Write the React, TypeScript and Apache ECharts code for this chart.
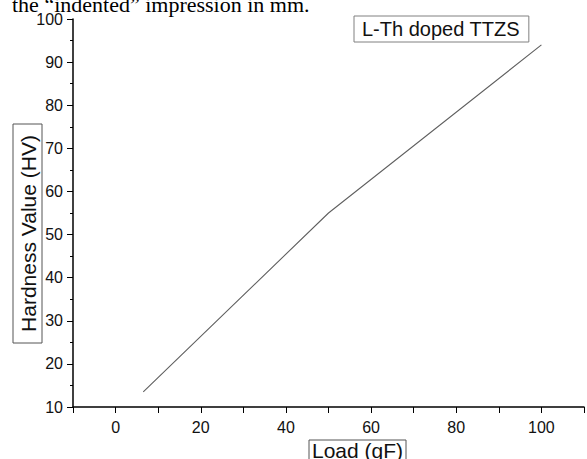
import React, { useEffect, useRef } from "react";
import * as echarts from "echarts";

const loads = [6.5, 50, 100];
const hardness = [13.5, 55, 94];
const seriesName = "L-Th doped TTZS";
const xTitle = "Load (gF)";
const yTitle = "Hardness Value (HV)";
const xLabelValues = [0, 20, 40, 60, 80, 100];
const topText = "the \u201Cindented\u201D impression in mm.";

export default function App() {
  const ref = useRef<HTMLDivElement>(null);
  useEffect(() => {
    if (!ref.current) return;
    const chart = echarts.init(ref.current, undefined, { renderer: "svg" });
    const font = '"Liberation Sans", Arial, sans-serif';
    chart.setOption({
      animation: false,
      backgroundColor: "#ffffff",
      grid: { left: 73, right: 1, top: 19, bottom: 52, containLabel: false },
      legend: {
        show: true,
        data: [{ name: seriesName, icon: "none" }],
        left: 354,
        top: 16,
        itemWidth: 0,
        itemHeight: 0,
        itemGap: 0,
        padding: [3, 9, 3, 3],
        borderColor: "#808080",
        borderWidth: 1,
        textStyle: { fontFamily: font, fontSize: 20, color: "#111" },
      },
      xAxis: {
        type: "value",
        min: -10,
        max: 110,
        interval: 10,
        splitLine: { show: false },
        axisLine: { show: true, onZero: false, lineStyle: { color: "#000", width: 1.5 } },
        axisTick: { show: true, length: 6, inside: false, lineStyle: { color: "#000", width: 1 } },
        axisLabel: {
          fontFamily: font,
          fontSize: 16,
          color: "#111",
          margin: 12,
          showMinLabel: true,
          showMaxLabel: true,
          formatter: (v: number) => (xLabelValues.includes(v) ? String(v) : ""),
        },
      },
      yAxis: {
        type: "value",
        min: 10,
        max: 100,
        interval: 10,
        splitLine: { show: false },
        axisLine: { show: true, onZero: false, lineStyle: { color: "#000", width: 1.5 } },
        axisTick: { show: true, length: 6, lineStyle: { color: "#000", width: 1 } },
        minorTick: { show: true, splitNumber: 2, length: 3, lineStyle: { color: "#000", width: 1 } },
        axisLabel: { fontFamily: font, fontSize: 16, color: "#111", margin: 10 },
      },
      series: [
        {
          name: seriesName,
          type: "line",
          data: loads.map((x, i) => [x, hardness[i]]),
          symbol: "none",
          lineStyle: { color: "#606060", width: 1.1 },
          itemStyle: { color: "#606060" },
        },
      ],
      graphic: [
        {
          type: "text",
          left: 12,
          top: -7,
          style: {
            text: topText,
            font: '22px "Liberation Serif", "Times New Roman", serif',
            fill: "#000",
          },
        },
        {
          type: "rect",
          shape: { x: 309, y: 440, width: 97, height: 30 },
          style: { fill: "#fff", stroke: "#555", lineWidth: 1 },
        },
        {
          type: "text",
          x: 357.5,
          y: 450,
          style: {
            text: xTitle,
            font: '21px "Liberation Sans", Arial, sans-serif',
            fill: "#111",
            align: "center",
            verticalAlign: "middle",
          },
        },
        {
          type: "rect",
          shape: { x: 13, y: 124, width: 29, height: 219 },
          style: { fill: "#fff", stroke: "#555", lineWidth: 1 },
        },
        {
          type: "text",
          x: 28,
          y: 233.5,
          rotation: Math.PI / 2,
          style: {
            text: yTitle,
            font: '21px "Liberation Sans", Arial, sans-serif',
            fill: "#111",
            align: "center",
            verticalAlign: "middle",
          },
        },
      ],
    });
    return () => chart.dispose();
  }, []);
  return (
    <div
      ref={ref}
      style={{ position: "absolute", left: 0, top: 0, width: 587, height: 459 }}
    />
  );
}
